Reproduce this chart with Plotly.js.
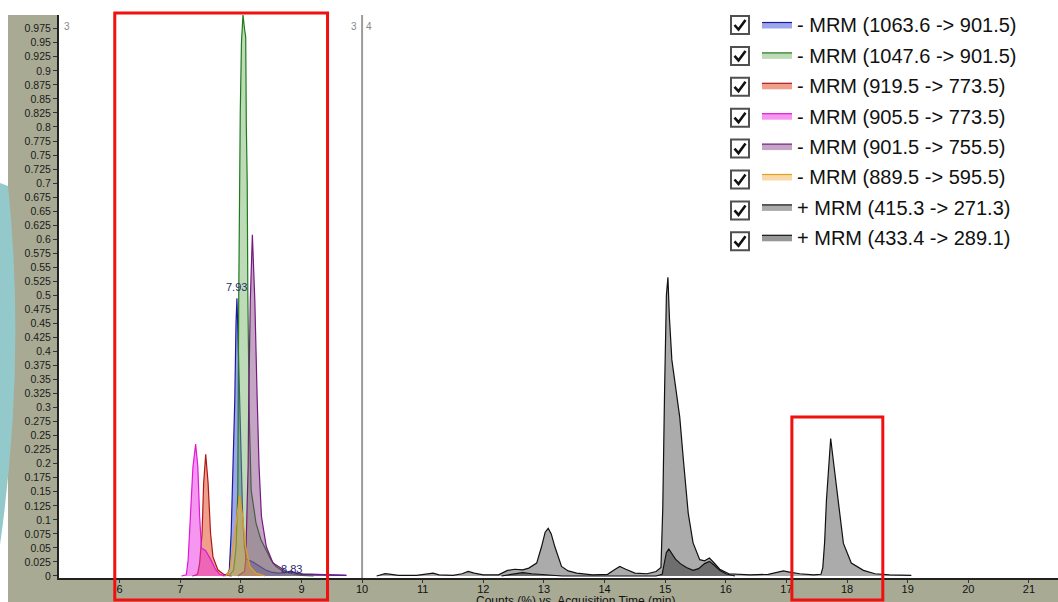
<!DOCTYPE html>
<html>
<head>
<meta charset="utf-8">
<script src="https://cdn.plot.ly/plotly-3.0.1.min.js"></script>
<style>html,body{margin:0;padding:0;background:#fff;}#chart{width:1058px;height:602px;}</style>
</head>
<body>
<div id="chart"></div>
<script>
// ---------- data ----------
const seriesNames = [
  "- MRM (1063.6 -> 901.5)",
  "- MRM (1047.6 -> 901.5)",
  "- MRM (919.5 -> 773.5)",
  "- MRM (905.5 -> 773.5)",
  "- MRM (901.5 -> 755.5)",
  "- MRM (889.5 -> 595.5)",
  "+ MRM (415.3 -> 271.3)",
  "+ MRM (433.4 -> 289.1)"
];

const timeMRM1063 = [7.70, 7.78, 7.81, 7.84, 7.87, 7.90, 7.92, 7.935, 7.95, 7.98, 8.01, 8.03, 8.06, 8.09, 8.20, 8.30, 8.40, 8.50, 8.62, 8.75, 8.83, 8.90, 9.00, 9.30, 9.74];
const countMRM1063 = [0.000, 0.004, 0.011, 0.076, 0.195, 0.314, 0.450, 0.495, 0.440, 0.314, 0.195, 0.106, 0.050, 0.030, 0.025, 0.018, 0.011, 0.007, 0.005, 0.006, 0.009, 0.005, 0.003, 0.002, 0.001];

const timeMRM1047 = [7.80, 7.88, 7.92, 7.95, 7.965, 7.975, 7.99, 8.01, 8.035, 8.06, 8.08, 8.09, 8.105, 8.115, 8.125, 8.14, 8.17, 8.25, 8.33, 8.42, 8.50, 8.58, 8.70, 8.85, 9.00, 9.20];
const countMRM1047 = [0.000, 0.010, 0.050, 0.150, 0.500, 0.680, 0.825, 0.950, 1.000, 0.975, 0.960, 0.805, 0.700, 0.500, 0.330, 0.280, 0.153, 0.094, 0.065, 0.046, 0.028, 0.017, 0.008, 0.004, 0.001, 0.000];

const timeMRM919 = [7.20, 7.27, 7.29, 7.32, 7.36, 7.386, 7.42, 7.46, 7.50, 7.54, 7.62, 7.73, 7.85];
const countMRM919 = [0.000, 0.002, 0.005, 0.023, 0.076, 0.165, 0.217, 0.165, 0.076, 0.034, 0.011, 0.002, 0.000];

const timeMRM905 = [7.02, 7.10, 7.13, 7.17, 7.21, 7.254, 7.29, 7.32, 7.35, 7.42, 7.50, 7.58, 7.65, 7.75];
const countMRM905 = [0.000, 0.002, 0.028, 0.106, 0.195, 0.235, 0.195, 0.106, 0.050, 0.045, 0.030, 0.012, 0.003, 0.000];

const timeMRM901 = [7.95, 8.06, 8.08, 8.10, 8.12, 8.13, 8.156, 8.19, 8.23, 8.27, 8.30, 8.34, 8.42, 8.53, 8.75, 9.02, 9.40, 9.74];
const countMRM901 = [0.000, 0.008, 0.028, 0.106, 0.195, 0.314, 0.492, 0.608, 0.492, 0.314, 0.195, 0.106, 0.052, 0.023, 0.008, 0.004, 0.002, 0.001];

const timeMRM889 = [7.75, 7.82, 7.87, 7.93, 7.98, 8.03, 8.08, 8.15, 8.25, 8.40];
const countMRM889 = [0.000, 0.011, 0.052, 0.106, 0.144, 0.106, 0.052, 0.017, 0.005, 0.000];

const timeMRM415 = [10.24, 10.30, 10.38, 10.48, 10.60, 10.90, 11.08, 11.17, 11.27, 11.50, 11.65, 11.75, 11.85, 12.00, 12.25, 12.40, 12.52, 12.65, 12.75, 12.88, 12.96, 13.02, 13.07, 13.12, 13.18, 13.29, 13.40, 13.54, 13.80, 14.05, 14.15, 14.25, 14.35, 14.50, 14.70, 14.85, 14.93, 14.96, 14.99, 15.02, 15.045, 15.07, 15.11, 15.17, 15.24, 15.30, 15.38, 15.46, 15.57, 15.65, 15.73, 15.80, 15.90, 16.05, 16.40, 16.70, 16.85, 16.95, 17.05, 17.22, 17.45, 17.57, 17.60, 17.63, 17.66, 17.70, 17.73, 17.78, 17.85, 17.94, 18.07, 18.27, 18.46, 18.70, 19.06];
const countMRM415 = [0.000, 0.002, 0.004, 0.003, 0.001, 0.001, 0.003, 0.005, 0.002, 0.001, 0.004, 0.008, 0.005, 0.002, 0.002, 0.010, 0.012, 0.011, 0.014, 0.023, 0.052, 0.078, 0.085, 0.075, 0.052, 0.017, 0.009, 0.005, 0.002, 0.003, 0.010, 0.017, 0.012, 0.005, 0.004, 0.008, 0.015, 0.120, 0.330, 0.500, 0.532, 0.460, 0.385, 0.335, 0.283, 0.207, 0.112, 0.059, 0.029, 0.027, 0.032, 0.024, 0.012, 0.004, 0.002, 0.003, 0.006, 0.009, 0.007, 0.004, 0.002, 0.003, 0.015, 0.060, 0.135, 0.210, 0.245, 0.200, 0.135, 0.058, 0.023, 0.010, 0.004, 0.002, 0.001];

const timeMRM433 = [12.30, 12.50, 12.65, 12.80, 12.95, 13.10, 13.30, 14.85, 14.95, 14.98, 15.02, 15.06, 15.10, 15.17, 15.25, 15.35, 15.46, 15.55, 15.65, 15.73, 15.80, 15.90, 16.00, 16.15];
const countMRM433 = [0.000, 0.004, 0.006, 0.004, 0.003, 0.002, 0.000, 0.000, 0.003, 0.020, 0.042, 0.048, 0.042, 0.030, 0.022, 0.015, 0.010, 0.013, 0.022, 0.026, 0.020, 0.010, 0.004, 0.000];

const peakLabels = ["7.93", "8.83"];
const peakLabelTimes = [7.93, 8.83];
const peakLabelCounts = [0.515, 0.012];

const xTickVals = [6, 7, 8, 9, 10, 11, 12, 13, 14, 15, 16, 17, 18, 19, 20, 21];
const yTickVals = [0, 0.025, 0.05, 0.075, 0.1, 0.125, 0.15, 0.175, 0.2, 0.225, 0.25, 0.275, 0.3, 0.325, 0.35, 0.375, 0.4, 0.425, 0.45, 0.475, 0.5, 0.525, 0.55, 0.575, 0.6, 0.625, 0.65, 0.675, 0.7, 0.725, 0.75, 0.775, 0.8, 0.825, 0.85, 0.875, 0.9, 0.925, 0.95, 0.975];
const yTickText = ["0", "0.025", "0.05", "0.075", "0.1", "0.125", "0.15", "0.175", "0.2", "0.225", "0.25", "0.275", "0.3", "0.325", "0.35", "0.375", "0.4", "0.425", "0.45", "0.475", "0.5", "0.525", "0.55", "0.575", "0.6", "0.625", "0.65", "0.675", "0.7", "0.725", "0.75", "0.775", "0.8", "0.825", "0.85", "0.875", "0.9", "0.925", "0.95", "0.975"];

const segmentBoundary = 10;
const highlightRanges = [[5.92, 9.43, 1.0036], [17.09, 18.59, 0.286]];
const axisTitle = "Counts (%) vs. Acquisition Time (min)";

// ---------- styling ----------
const lineColors = ["#1c1c9a", "#1f7a1f", "#b01818", "#e018d8", "#741a80", "#e0a020", "#111111", "#111111"];
const fillColors = ["rgba(60,75,215,0.50)", "rgba(110,175,95,0.45)", "rgba(225,80,45,0.55)", "rgba(235,45,225,0.50)", "rgba(125,55,125,0.45)", "rgba(240,170,60,0.45)", "rgba(150,150,150,0.80)", "rgba(50,50,50,0.50)"];

const W = 1058, H = 602, ML = 59, MR = 0, MT = 15, MB = 24;
const PW = W - ML - MR, PH = H - MT - MB;
const pxX = p => (p - ML) / PW;
const pxY = p => (H - MB - p) / PH;

const xs = [timeMRM1063, timeMRM1047, timeMRM919, timeMRM905, timeMRM901, timeMRM889, timeMRM415, timeMRM433];
const ys = [countMRM1063, countMRM1047, countMRM919, countMRM905, countMRM901, countMRM889, countMRM415, countMRM433];

const traces = seriesNames.map((n, i) => ({
  type: "scatter", mode: "lines", name: n, legendgroup: "g" + i,
  x: xs[i], y: ys[i], fill: "tozeroy", fillcolor: fillColors[i],
  line: {color: lineColors[i], width: 1.2}, hoverinfo: "skip"
}));

const shapes = [];
// white margins around the olive panel
shapes.push({type: "rect", xref: "paper", yref: "paper", x0: pxX(0), x1: pxX(W), y0: pxY(MT), y1: pxY(0), fillcolor: "#ffffff", line: {width: 0}, layer: "below"});
shapes.push({type: "rect", xref: "paper", yref: "paper", x0: pxX(0), x1: pxX(8), y0: pxY(H), y1: pxY(0), fillcolor: "#ffffff", line: {width: 0}, layer: "below"});
// decorative teal slide shape on the left edge
shapes.push({type: "path", xref: "paper", yref: "paper", layer: "below",
  path: "M" + pxX(0) + "," + pxY(183) + " L" + pxX(8) + "," + pxY(186) + " Q" + pxX(26) + "," + pxY(360) + " " + pxX(0) + "," + pxY(545) + " Z",
  fillcolor: "#94c9cb", line: {width: 0}});
// segment boundary
shapes.push({type: "line", xref: "x", yref: "paper", x0: segmentBoundary, x1: segmentBoundary, y0: 0, y1: 1, line: {color: "#9c9c9c", width: 2}});
// highlight rectangles
highlightRanges.forEach(r => shapes.push({type: "rect", xref: "x", yref: "paper", x0: r[0], x1: r[1], y0: pxY(600), y1: r[2], line: {color: "#f01010", width: 3}, fillcolor: "rgba(0,0,0,0)"}));

const annotations = [];
peakLabels.forEach((t, i) => annotations.push({x: peakLabelTimes[i], y: peakLabelCounts[i], xref: "x", yref: "y", text: t, showarrow: false, font: {family: "Liberation Sans, Arial", size: 11, color: "#2a2a6e"}}));
annotations.push({x: segmentBoundary, y: pxY(19), xref: "x", yref: "paper", text: "3", xanchor: "right", showarrow: false, xshift: -3, font: {family: "Liberation Sans, Arial", size: 10, color: "#888"}});
annotations.push({x: segmentBoundary, y: pxY(19), xref: "x", yref: "paper", text: "4", xanchor: "left", showarrow: false, xshift: 2, font: {family: "Liberation Sans, Arial", size: 10, color: "#888"}});
annotations.push({x: pxX(62), y: pxY(19), xref: "paper", yref: "paper", text: "3", xanchor: "left", showarrow: false, font: {family: "Liberation Sans, Arial", size: 10, color: "#888"}});
annotations.push({x: pxX(575), y: pxY(592), xref: "paper", yref: "paper", text: axisTitle, xanchor: "center", yanchor: "top", showarrow: false, font: {family: "Liberation Sans, Arial", size: 12, color: "#111"}});

// legend checkboxes (drawn as shapes beside the legend)
const boxTop = 25, boxStep = 30.9;
seriesNames.forEach((n, i) => {
  const c = boxTop + i * boxStep;
  shapes.push({type: "rect", xref: "paper", yref: "paper", x0: pxX(731), x1: pxX(749), y0: pxY(c + 9), y1: pxY(c - 9), fillcolor: "#ffffff", line: {color: "#505050", width: 2}});
  shapes.push({type: "path", xref: "paper", yref: "paper",
    path: "M" + pxX(734.5) + "," + pxY(c) + " L" + pxX(738.5) + "," + pxY(c + 4.5) + " L" + pxX(745.5) + "," + pxY(c - 5),
    line: {color: "#111111", width: 2.6}});
});

const layout = {
  width: W, height: H,
  margin: {l: ML, r: MR, t: MT, b: MB, pad: 0},
  paper_bgcolor: "#a8aa94", plot_bgcolor: "#ffffff",
  showlegend: true,
  legend: {x: pxX(757), y: pxY(5), xanchor: "left", yanchor: "top", bgcolor: "rgba(0,0,0,0)", borderwidth: 0,
    font: {family: "Liberation Sans, Arial", size: 20, color: "#111"}, tracegroupgap: 1.4, itemwidth: 30, traceorder: "grouped"},
  xaxis: {range: [5.0, 21.48], tickvals: xTickVals, ticks: "outside", ticklen: 3, tickcolor: "#333", showgrid: false, zeroline: false,
    showline: true, linecolor: "#222", linewidth: 2, ticklabelstandoff: -3,
    tickfont: {family: "Liberation Sans, Arial", size: 11, color: "#111"}},
  yaxis: {range: [-0.0036, 0.9995], tickvals: yTickVals, ticktext: yTickText, ticks: "outside", ticklen: 4, tickcolor: "#333", showgrid: false, zeroline: false,
    showline: true, linecolor: "#222", linewidth: 2, tickfont: {family: "Liberation Sans, Arial", size: 10.5, color: "#1a1a1a"}},
  shapes: shapes, annotations: annotations
};

Plotly.newPlot("chart", traces, layout, {staticPlot: true, displayModeBar: false});
</script>
</body>
</html>
